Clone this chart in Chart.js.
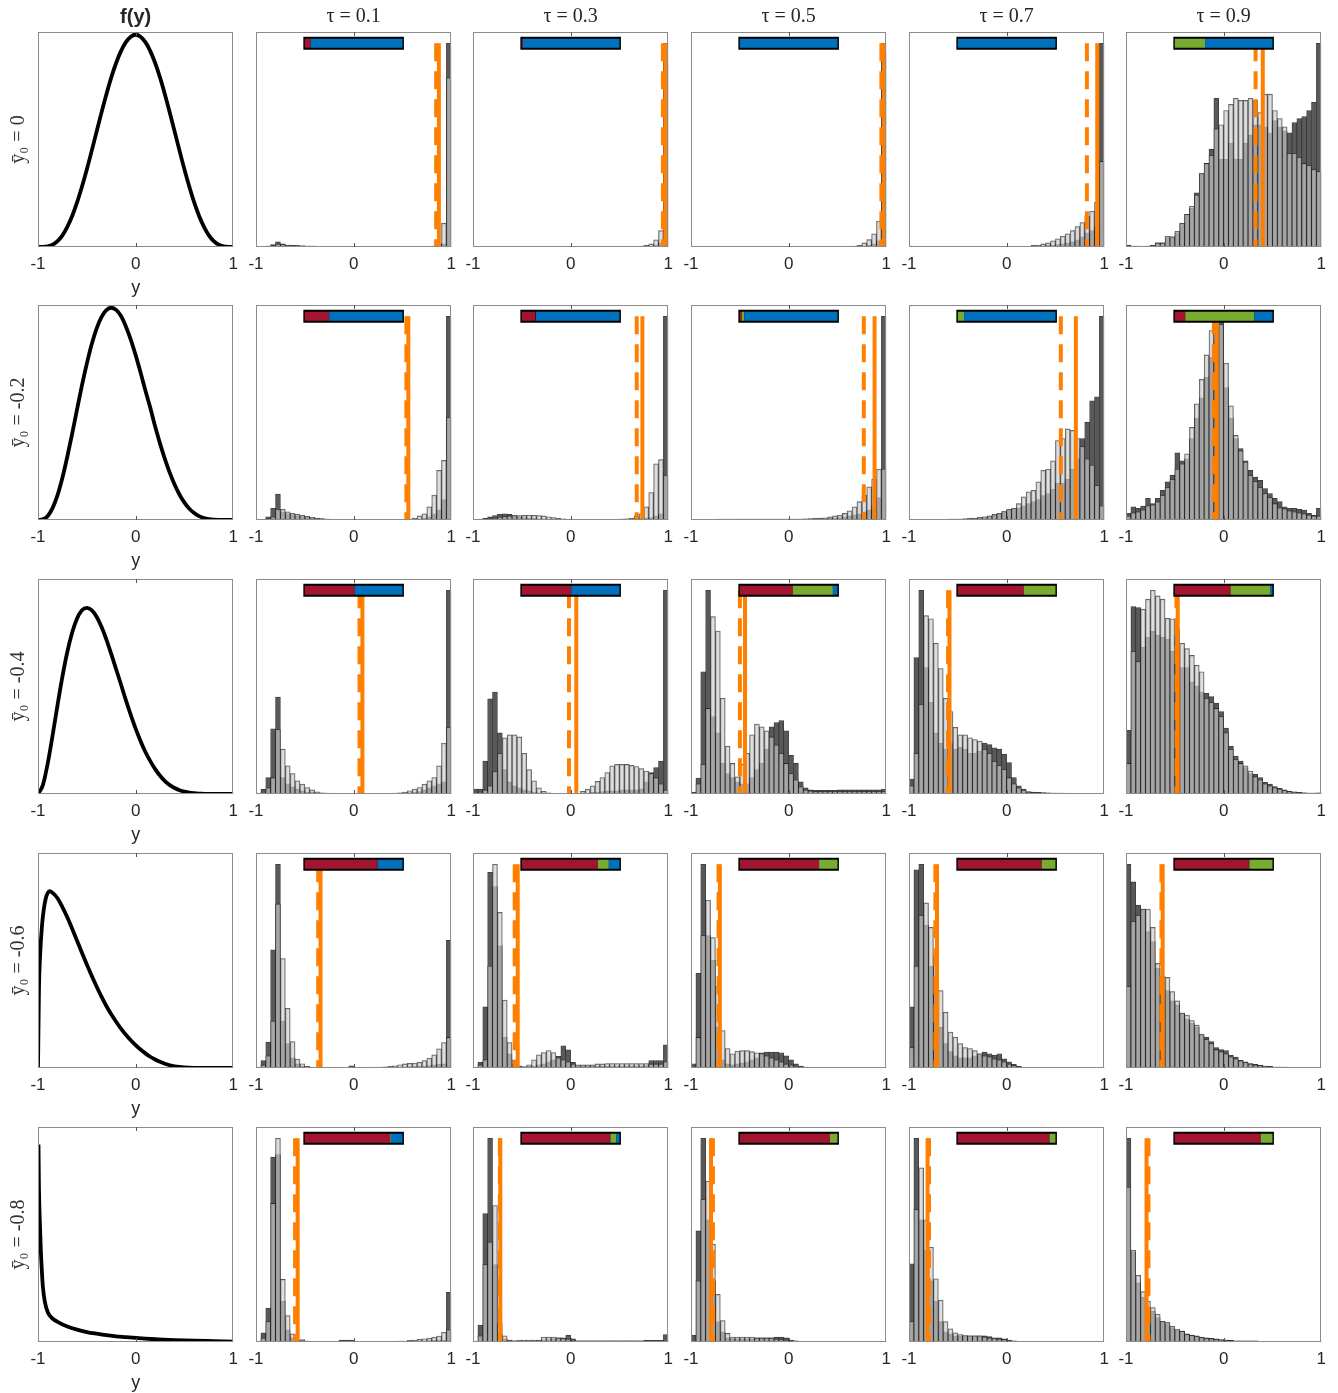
<!DOCTYPE html>
<html><head><meta charset="utf-8">
<script src="https://cdn.jsdelivr.net/npm/chart.js@4.4.1/dist/chart.umd.min.js"></script>
<style>
html,body{margin:0;padding:0;background:#fff;}
#wrap{position:relative;width:1338px;height:1393px;overflow:hidden;background:#fff;}
#wrap canvas{position:absolute;}
</style></head><body><div id="wrap"></div>
<script>
// ---------------- DATA ----------------
const xTicks = [-1, 0, 1];
const taus = ['0.1', '0.3', '0.5', '0.7', '0.9'];
const y0Labels = ['ȳ₀ = 0', 'ȳ₀ = -0.2', 'ȳ₀ = -0.4', 'ȳ₀ = -0.6', 'ȳ₀ = -0.8'];
const binCenters = [-0.975,-0.925,-0.875,-0.825,-0.775,-0.725,-0.675,-0.625,-0.575,-0.525,
 -0.475,-0.425,-0.375,-0.325,-0.275,-0.225,-0.175,-0.125,-0.075,-0.025,
 0.025,0.075,0.125,0.175,0.225,0.275,0.325,0.375,0.425,0.475,
 0.525,0.575,0.625,0.675,0.725,0.775,0.825,0.875,0.925,0.975];

// density f(y), first column
const densX = [-1,-0.95,-0.9,-0.85,-0.8,-0.75,-0.7,-0.65,-0.6,-0.55,-0.5,-0.45,-0.4,-0.35,-0.3,-0.25,-0.2,-0.15,-0.1,-0.05,0,
 0.05,0.1,0.15,0.2,0.25,0.3,0.35,0.4,0.45,0.5,0.55,0.6,0.65,0.7,0.75,0.8,0.85,0.9,0.95,1];
const densY_r1 = [0,0.0003,0.003,0.011,0.028,0.055,0.095,0.146,0.21,0.284,0.365,0.453,0.543,0.633,0.719,0.798,0.867,0.923,0.965,0.991,1.0,
 0.991,0.965,0.923,0.867,0.798,0.719,0.633,0.543,0.453,0.365,0.284,0.21,0.146,0.095,0.055,0.028,0.011,0.003,0.0003,0];
const densY_r2 = [0,0.003,0.019,0.057,0.117,0.199,0.298,0.407,0.521,0.634,0.737,0.828,0.902,0.956,0.989,1.0,0.99,0.961,0.912,0.85,0.777,
 0.696,0.61,0.529,0.44,0.36,0.287,0.222,0.166,0.119,0.082,0.053,0.033,0.018,0.009,0.004,0.0015,0.0005,0.0001,0,0];
const densY_r3 = [0,0.042,0.145,0.278,0.419,0.553,0.669,0.761,0.827,0.866,0.877,0.866,0.835,0.788,0.729,0.66,0.588,0.516,0.442,0.373,0.308,
 0.25,0.198,0.155,0.117,0.086,0.061,0.042,0.028,0.018,0.011,0.006,0.0035,0.002,0.001,0,0,0,0,0,0];
const densX_r4 = [-1,-0.99,-0.98,-0.96,-0.94,-0.92,-0.9,-0.88,-0.85,-0.8,-0.75,-0.7,-0.65,-0.6,-0.55,-0.5,-0.45,-0.4,-0.35,-0.3,
 -0.25,-0.2,-0.15,-0.1,-0.05,0,0.05,0.1,0.15,0.2,0.25,0.3,0.35,0.4,0.45,0.5,0.6,0.7,0.8,0.9,1];
const densY_r4 = [0,0.375,0.516,0.666,0.75,0.8,0.825,0.833,0.825,0.8,0.758,0.71,0.656,0.6,0.543,0.488,0.435,0.384,0.336,0.292,
 0.253,0.218,0.186,0.157,0.131,0.108,0.087,0.069,0.053,0.04,0.029,0.02,0.013,0.008,0.005,0.003,0.001,0,0,0,0];
const densX_r5 = [-0.995,-0.99,-0.98,-0.97,-0.96,-0.95,-0.93,-0.9,-0.85,-0.8,-0.7,-0.6,-0.5,-0.4,-0.3,-0.2,-0.1,0,0.2,0.4,0.6,0.8,1];
const densY_r5 = [0.93,0.72,0.55,0.42,0.33,0.26,0.19,0.14,0.11,0.095,0.073,0.058,0.047,0.039,0.032,0.027,0.023,0.019,0.013,0.009,0.006,0.004,0.002];

// histograms: dark series and light series (relative heights, 40 bins)
const dark_r1_t1 = [0.002,0.003,0.005,0.012,0.025,0.016,0.010,0.008,0.007,0.006,
 0.005,0.004,0.003,0.003,0.003,0.003,0.003,0.003,0.003,0.003,
 0.003,0.003,0.003,0.003,0.003,0.003,0.003,0.003,0.003,0.003,
 0.003,0.003,0.003,0.003,0.003,0.003,0.004,0.006,0.015,1.000];
const light_r1_t1 = [0.001,0.002,0.004,0.008,0.015,0.012,0.010,0.008,0.007,0.006,
 0.005,0.004,0.003,0.003,0.003,0.003,0.003,0.003,0.003,0.003,
 0.003,0.003,0.003,0.003,0.003,0.003,0.003,0.003,0.003,0.003,
 0.003,0.003,0.003,0.003,0.003,0.003,0.005,0.015,0.117,0.830];
const dark_r1_t3 = [0.002,0.002,0.002,0.003,0.003,0.003,0.003,0.003,0.003,0.003,
 0.002,0.002,0.002,0.002,0.002,0.002,0.002,0.002,0.002,0.002,
 0.002,0.002,0.002,0.002,0.002,0.002,0.002,0.002,0.002,0.002,
 0.002,0.002,0.002,0.002,0.003,0.004,0.006,0.010,0.020,1.000];
const light_r1_t3 = [0.002,0.002,0.002,0.002,0.002,0.002,0.002,0.002,0.002,0.002,
 0.002,0.002,0.002,0.002,0.002,0.002,0.002,0.002,0.002,0.002,
 0.002,0.002,0.002,0.002,0.002,0.002,0.002,0.002,0.002,0.002,
 0.002,0.002,0.002,0.002,0.004,0.008,0.015,0.035,0.080,0.900];
const dark_r1_t5 = [0.002,0.002,0.002,0.002,0.002,0.002,0.002,0.002,0.002,0.002,
 0.002,0.002,0.002,0.002,0.002,0.002,0.002,0.002,0.002,0.002,
 0.002,0.002,0.002,0.002,0.002,0.002,0.002,0.002,0.002,0.002,
 0.002,0.002,0.002,0.003,0.004,0.006,0.010,0.015,0.030,1.000];
const light_r1_t5 = [0.002,0.002,0.002,0.002,0.002,0.002,0.002,0.002,0.002,0.002,
 0.002,0.002,0.002,0.002,0.002,0.002,0.002,0.002,0.002,0.002,
 0.002,0.002,0.002,0.002,0.002,0.002,0.002,0.002,0.002,0.002,
 0.002,0.002,0.002,0.004,0.008,0.020,0.036,0.065,0.127,0.950];
const dark_r1_t7 = [0.002,0.002,0.002,0.002,0.002,0.002,0.002,0.002,0.002,0.002,
 0.002,0.002,0.002,0.002,0.003,0.003,0.003,0.003,0.003,0.003,
 0.003,0.003,0.003,0.003,0.003,0.004,0.005,0.006,0.008,0.010,
 0.012,0.015,0.020,0.025,0.035,0.050,0.070,0.080,0.100,1.000];
const light_r1_t7 = [0.002,0.002,0.002,0.002,0.002,0.002,0.002,0.002,0.002,0.002,
 0.002,0.002,0.002,0.002,0.003,0.003,0.003,0.003,0.003,0.003,
 0.003,0.003,0.003,0.003,0.003,0.008,0.010,0.015,0.020,0.030,
 0.040,0.054,0.065,0.080,0.100,0.120,0.150,0.176,0.220,0.420];
const dark_r1_t9 = [0.010,0.005,0.004,0.003,0.005,0.008,0.020,0.020,0.045,0.050,
 0.070,0.115,0.160,0.190,0.266,0.360,0.410,0.480,0.730,0.430,
 0.430,0.510,0.430,0.430,0.510,0.550,0.600,0.600,0.590,0.560,
 0.620,0.590,0.570,0.560,0.610,0.630,0.640,0.670,0.710,1.000];
const light_r1_t9 = [0.005,0.004,0.003,0.003,0.005,0.008,0.020,0.020,0.052,0.050,
 0.077,0.117,0.160,0.200,0.255,0.360,0.410,0.450,0.580,0.600,
 0.670,0.700,0.730,0.720,0.720,0.730,0.720,0.660,0.750,0.750,
 0.670,0.630,0.590,0.460,0.460,0.440,0.410,0.400,0.380,0.370];

const dark_r2_t1 = [0.001,0.003,0.016,0.057,0.127,0.040,0.030,0.025,0.020,0.017,
 0.013,0.010,0.008,0.006,0.005,0.003,0.003,0.003,0.003,0.003,
 0.003,0.003,0.003,0.003,0.002,0.002,0.002,0.002,0.002,0.002,
 0.002,0.003,0.004,0.006,0.008,0.015,0.030,0.050,0.100,1.000];
const light_r2_t1 = [0.001,0.002,0.008,0.016,0.052,0.052,0.040,0.033,0.028,0.023,
 0.018,0.013,0.010,0.007,0.005,0.003,0.003,0.003,0.003,0.003,
 0.003,0.003,0.003,0.003,0.002,0.002,0.002,0.002,0.002,0.002,
 0.003,0.005,0.010,0.020,0.030,0.065,0.122,0.244,0.293,0.504];
const dark_r2_t3 = [0.002,0.004,0.008,0.015,0.022,0.028,0.030,0.028,0.022,0.017,
 0.012,0.010,0.008,0.006,0.005,0.004,0.003,0.003,0.002,0.003,
 0.003,0.003,0.003,0.003,0.003,0.003,0.003,0.003,0.003,0.003,
 0.004,0.005,0.006,0.007,0.008,0.010,0.012,0.020,0.030,1.000];
const light_r2_t3 = [0.001,0.002,0.003,0.005,0.010,0.014,0.017,0.020,0.022,0.022,
 0.023,0.024,0.023,0.022,0.020,0.016,0.012,0.008,0.006,0.004,
 0.003,0.003,0.003,0.003,0.003,0.003,0.003,0.003,0.003,0.003,
 0.004,0.006,0.010,0.020,0.030,0.065,0.135,0.276,0.296,0.220];
const dark_r2_t5 = [0.003,0.003,0.003,0.003,0.003,0.004,0.005,0.005,0.005,0.004,
 0.004,0.004,0.004,0.004,0.004,0.004,0.004,0.004,0.004,0.004,
 0.004,0.004,0.004,0.004,0.004,0.005,0.005,0.006,0.008,0.010,
 0.012,0.015,0.020,0.025,0.030,0.040,0.050,0.070,0.110,1.000];
const light_r2_t5 = [0.002,0.002,0.002,0.002,0.002,0.002,0.003,0.003,0.003,0.004,
 0.004,0.004,0.004,0.004,0.004,0.004,0.004,0.004,0.004,0.004,
 0.004,0.004,0.005,0.006,0.007,0.008,0.009,0.011,0.015,0.020,
 0.024,0.033,0.045,0.065,0.090,0.122,0.163,0.200,0.250,0.250];
const dark_r2_t7 = [0.002,0.002,0.003,0.003,0.003,0.003,0.003,0.003,0.004,0.004,
 0.005,0.006,0.006,0.007,0.008,0.012,0.018,0.025,0.030,0.040,
 0.050,0.055,0.060,0.070,0.080,0.090,0.100,0.120,0.130,0.150,
 0.180,0.180,0.200,0.250,0.300,0.400,0.480,0.585,0.605,1.000];
const light_r2_t7 = [0.002,0.002,0.002,0.002,0.003,0.003,0.003,0.003,0.004,0.004,
 0.005,0.006,0.008,0.010,0.013,0.016,0.021,0.028,0.033,0.044,
 0.052,0.057,0.080,0.114,0.138,0.146,0.187,0.244,0.250,0.290,
 0.390,0.400,0.447,0.440,0.400,0.360,0.300,0.270,0.170,0.070];
const dark_r2_t9 = [0.033,0.065,0.057,0.068,0.106,0.081,0.106,0.146,0.187,0.220,
 0.330,0.290,0.300,0.400,0.500,0.600,0.700,0.800,0.880,1.000,
 0.650,0.500,0.400,0.350,0.290,0.244,0.210,0.195,0.154,0.130,
 0.106,0.090,0.065,0.057,0.057,0.052,0.049,0.033,0.024,0.057];
const light_r2_t9 = [0.020,0.035,0.040,0.050,0.070,0.075,0.090,0.120,0.160,0.200,
 0.250,0.276,0.325,0.455,0.570,0.690,0.810,0.930,0.950,0.960,
 0.770,0.560,0.415,0.340,0.285,0.220,0.190,0.160,0.130,0.110,
 0.080,0.060,0.055,0.045,0.040,0.035,0.030,0.025,0.020,0.020];

const dark_r3_t1 = [0.002,0.023,0.081,0.320,0.475,0.080,0.050,0.035,0.025,0.015,
 0.010,0.008,0.006,0.004,0.003,0.002,0.002,0.002,0.002,0.002,
 0.002,0.002,0.002,0.002,0.002,0.002,0.002,0.002,0.003,0.004,
 0.005,0.007,0.010,0.012,0.020,0.030,0.040,0.050,0.060,1.000];
const light_r3_t1 = [0.001,0.010,0.030,0.080,0.316,0.220,0.138,0.100,0.065,0.049,
 0.032,0.020,0.011,0.006,0.004,0.003,0.002,0.002,0.002,0.002,
 0.002,0.002,0.002,0.002,0.002,0.002,0.002,0.003,0.004,0.006,
 0.010,0.016,0.024,0.032,0.049,0.065,0.081,0.138,0.250,0.327];
const dark_r3_t3 = [0.024,0.024,0.162,0.467,0.500,0.300,0.120,0.060,0.040,0.030,
 0.020,0.015,0.010,0.006,0.004,0.003,0.002,0.002,0.002,0.002,
 0.002,0.002,0.003,0.005,0.008,0.010,0.012,0.015,0.015,0.015,
 0.020,0.020,0.020,0.020,0.025,0.060,0.105,0.130,0.162,1.000];
const light_r3_t3 = [0.010,0.010,0.020,0.040,0.110,0.200,0.276,0.290,0.290,0.280,
 0.200,0.120,0.065,0.030,0.013,0.006,0.003,0.003,0.003,0.002,
 0.002,0.002,0.013,0.024,0.040,0.062,0.081,0.105,0.138,0.146,
 0.146,0.145,0.141,0.135,0.125,0.113,0.100,0.080,0.050,0.020];
const dark_r3_t5 = [0.010,0.078,0.600,1.000,0.380,0.300,0.150,0.100,0.080,0.060,
 0.050,0.050,0.080,0.120,0.150,0.220,0.330,0.350,0.360,0.310,
 0.190,0.150,0.060,0.030,0.020,0.018,0.018,0.018,0.018,0.018,
 0.020,0.020,0.020,0.020,0.020,0.020,0.020,0.020,0.020,0.024];
const light_r3_t5 = [0.005,0.050,0.146,0.420,0.870,0.800,0.470,0.235,0.150,0.084,
 0.146,0.200,0.290,0.343,0.330,0.310,0.280,0.240,0.200,0.150,
 0.100,0.070,0.035,0.020,0.015,0.012,0.012,0.012,0.012,0.012,
 0.012,0.012,0.012,0.012,0.012,0.012,0.012,0.012,0.012,0.012];
const dark_r3_t7 = [0.073,0.670,1.000,0.620,0.450,0.300,0.250,0.220,0.250,0.220,
 0.230,0.220,0.200,0.200,0.210,0.250,0.243,0.227,0.220,0.195,
 0.154,0.081,0.040,0.024,0.012,0.010,0.008,0.007,0.006,0.005,
 0.004,0.004,0.003,0.003,0.003,0.003,0.002,0.002,0.002,0.002];
const light_r3_t7 = [0.040,0.200,0.440,0.875,0.860,0.740,0.616,0.470,0.405,0.327,
 0.290,0.290,0.276,0.267,0.260,0.220,0.200,0.160,0.140,0.120,
 0.080,0.050,0.030,0.020,0.010,0.008,0.006,0.005,0.004,0.004,
 0.003,0.003,0.003,0.003,0.002,0.002,0.002,0.002,0.002,0.002];
const dark_r3_t9 = [0.313,0.920,0.915,0.720,0.770,0.800,0.780,0.770,0.760,0.700,
 0.700,0.620,0.620,0.550,0.530,0.500,0.494,0.478,0.446,0.405,
 0.324,0.235,0.186,0.162,0.130,0.100,0.097,0.081,0.057,0.049,
 0.036,0.028,0.020,0.013,0.011,0.008,0.006,0.005,0.004,0.006];
const light_r3_t9 = [0.150,0.700,0.650,0.907,0.956,1.000,0.972,0.956,0.862,0.860,
 0.810,0.740,0.713,0.680,0.632,0.600,0.470,0.450,0.420,0.380,
 0.300,0.220,0.170,0.150,0.138,0.113,0.085,0.070,0.050,0.040,
 0.030,0.025,0.018,0.012,0.010,0.008,0.006,0.005,0.004,0.004];

const dark_r4_t1 = [0.005,0.037,0.127,0.580,1.000,0.230,0.120,0.050,0.020,0.010,
 0.005,0.003,0.002,0.002,0.002,0.002,0.002,0.002,0.002,0.011,
 0.003,0.003,0.003,0.003,0.003,0.003,0.003,0.003,0.005,0.005,
 0.006,0.007,0.008,0.009,0.010,0.012,0.015,0.018,0.020,0.626];
const light_r4_t1 = [0.003,0.015,0.060,0.230,0.805,0.537,0.293,0.130,0.044,0.021,
 0.008,0.004,0.002,0.002,0.002,0.002,0.002,0.002,0.002,0.003,
 0.003,0.003,0.003,0.003,0.004,0.005,0.006,0.008,0.011,0.016,
 0.020,0.023,0.024,0.028,0.036,0.049,0.065,0.094,0.125,0.150];
const dark_r4_t3 = [0.005,0.028,0.300,0.960,0.890,0.600,0.150,0.070,0.020,0.010,
 0.006,0.008,0.010,0.015,0.020,0.030,0.040,0.057,0.109,0.089,
 0.028,0.008,0.008,0.008,0.008,0.008,0.008,0.008,0.010,0.010,
 0.010,0.010,0.010,0.010,0.010,0.012,0.037,0.037,0.037,0.114];
const light_r4_t3 = [0.003,0.015,0.040,0.500,1.000,0.764,0.333,0.125,0.040,0.010,
 0.006,0.016,0.040,0.065,0.076,0.086,0.076,0.050,0.040,0.030,
 0.020,0.015,0.015,0.015,0.015,0.020,0.020,0.022,0.022,0.022,
 0.022,0.022,0.022,0.022,0.022,0.022,0.020,0.020,0.020,0.030];
const dark_r4_t5 = [0.021,0.465,1.000,0.650,0.530,0.200,0.040,0.020,0.015,0.020,
 0.025,0.030,0.040,0.050,0.075,0.078,0.078,0.078,0.075,0.060,
 0.040,0.020,0.010,0.004,0.003,0.003,0.003,0.002,0.002,0.002,
 0.002,0.002,0.002,0.002,0.002,0.002,0.002,0.002,0.002,0.002];
const light_r4_t5 = [0.010,0.150,0.650,0.824,0.640,0.400,0.184,0.095,0.070,0.083,
 0.085,0.085,0.080,0.075,0.070,0.060,0.050,0.040,0.030,0.020,
 0.015,0.010,0.008,0.004,0.003,0.003,0.003,0.002,0.002,0.002,
 0.002,0.002,0.002,0.002,0.002,0.002,0.002,0.002,0.002,0.002];
const dark_r4_t7 = [0.300,0.973,1.000,0.700,0.500,0.400,0.200,0.120,0.080,0.060,
 0.050,0.050,0.050,0.060,0.070,0.078,0.070,0.062,0.070,0.045,
 0.030,0.018,0.008,0.003,0.003,0.003,0.003,0.003,0.003,0.003,
 0.003,0.003,0.003,0.003,0.003,0.003,0.003,0.003,0.003,0.003];
const light_r4_t7 = [0.100,0.500,0.750,0.810,0.690,0.550,0.380,0.274,0.176,0.152,
 0.120,0.100,0.095,0.085,0.070,0.060,0.055,0.045,0.040,0.030,
 0.020,0.012,0.008,0.003,0.003,0.003,0.003,0.003,0.003,0.003,
 0.003,0.003,0.003,0.003,0.003,0.003,0.003,0.003,0.003,0.003];
const dark_r4_t9 = [1.000,0.913,0.800,0.780,0.670,0.620,0.490,0.420,0.380,0.330,
 0.310,0.270,0.240,0.220,0.200,0.160,0.150,0.130,0.100,0.090,
 0.085,0.062,0.054,0.038,0.030,0.022,0.018,0.014,0.010,0.008,
 0.005,0.004,0.004,0.003,0.003,0.003,0.002,0.002,0.002,0.002];
const light_r4_t9 = [0.400,0.720,0.750,0.780,0.780,0.690,0.514,0.450,0.445,0.375,
 0.330,0.270,0.260,0.233,0.210,0.166,0.140,0.120,0.090,0.080,
 0.070,0.055,0.045,0.035,0.028,0.020,0.015,0.012,0.010,0.008,
 0.005,0.004,0.004,0.003,0.003,0.003,0.002,0.002,0.002,0.002];

const dark_r5_t1 = [0.005,0.045,0.167,0.908,0.920,0.200,0.060,0.020,0.010,0.011,
 0.005,0.003,0.003,0.003,0.003,0.003,0.003,0.010,0.010,0.010,
 0.003,0.003,0.003,0.003,0.003,0.003,0.003,0.003,0.003,0.003,
 0.003,0.004,0.005,0.005,0.006,0.007,0.008,0.009,0.010,0.244];
const light_r5_t1 = [0.003,0.020,0.100,0.680,1.000,0.307,0.130,0.040,0.010,0.011,
 0.005,0.003,0.003,0.003,0.003,0.003,0.003,0.003,0.003,0.003,
 0.003,0.003,0.003,0.003,0.003,0.003,0.003,0.003,0.003,0.004,
 0.005,0.008,0.010,0.013,0.016,0.019,0.024,0.029,0.048,0.060];
const dark_r5_t3 = [0.005,0.083,0.630,1.000,0.380,0.040,0.015,0.010,0.006,0.006,
 0.006,0.006,0.006,0.008,0.010,0.012,0.015,0.021,0.020,0.034,
 0.015,0.006,0.006,0.006,0.006,0.006,0.006,0.006,0.006,0.006,
 0.006,0.006,0.006,0.006,0.006,0.008,0.008,0.008,0.008,0.037];
const light_r5_t3 = [0.003,0.030,0.380,0.490,0.670,0.094,0.030,0.010,0.006,0.010,
 0.010,0.010,0.010,0.010,0.024,0.024,0.024,0.020,0.018,0.015,
 0.010,0.006,0.006,0.006,0.006,0.006,0.006,0.006,0.006,0.006,
 0.006,0.006,0.006,0.006,0.006,0.005,0.005,0.005,0.005,0.010];
const dark_r5_t5 = [0.034,0.545,1.000,0.600,0.300,0.100,0.050,0.020,0.015,0.015,
 0.015,0.015,0.015,0.020,0.020,0.020,0.020,0.024,0.024,0.020,
 0.010,0.006,0.002,0.002,0.002,0.002,0.002,0.002,0.002,0.002,
 0.002,0.002,0.002,0.002,0.002,0.002,0.002,0.002,0.002,0.002];
const light_r5_t5 = [0.010,0.300,0.700,0.790,0.480,0.234,0.105,0.042,0.024,0.024,
 0.024,0.024,0.024,0.020,0.020,0.020,0.020,0.015,0.012,0.010,
 0.008,0.005,0.002,0.002,0.002,0.002,0.002,0.002,0.002,0.002,
 0.002,0.002,0.002,0.002,0.002,0.002,0.002,0.002,0.002,0.002];
const dark_r5_t7 = [0.384,1.000,0.600,0.450,0.300,0.200,0.100,0.050,0.040,0.030,
 0.030,0.030,0.030,0.030,0.030,0.030,0.026,0.021,0.020,0.015,
 0.010,0.006,0.002,0.002,0.002,0.002,0.002,0.002,0.002,0.002,
 0.002,0.002,0.002,0.002,0.002,0.002,0.002,0.002,0.002,0.002];
const light_r5_t7 = [0.100,0.650,0.855,0.600,0.465,0.310,0.206,0.100,0.065,0.045,
 0.037,0.032,0.030,0.030,0.030,0.025,0.020,0.018,0.015,0.012,
 0.008,0.005,0.002,0.002,0.002,0.002,0.002,0.002,0.002,0.002,
 0.002,0.002,0.002,0.002,0.002,0.002,0.002,0.002,0.002,0.002];
const dark_r5_t9 = [1.000,0.440,0.290,0.220,0.170,0.150,0.120,0.100,0.090,0.070,
 0.060,0.053,0.040,0.034,0.030,0.024,0.020,0.018,0.015,0.012,
 0.010,0.008,0.006,0.006,0.006,0.006,0.006,0.003,0.003,0.003,
 0.003,0.003,0.003,0.003,0.003,0.003,0.003,0.003,0.003,0.003];
const light_r5_t9 = [0.760,0.450,0.327,0.247,0.200,0.169,0.137,0.102,0.098,0.077,
 0.061,0.053,0.038,0.032,0.028,0.022,0.018,0.016,0.013,0.011,
 0.009,0.007,0.005,0.005,0.005,0.005,0.005,0.003,0.003,0.003,
 0.003,0.003,0.003,0.003,0.003,0.003,0.003,0.003,0.003,0.003];

// orange reference lines (per row, one per tau)
const solidRow1 = [0.873, 0.970, 0.975, 0.928, 0.401];
const solidRow2 = [0.560, 0.735, 0.880, 0.709, -0.070];
const solidRow3 = [0.090, 0.058, -0.447, -0.585, -0.470];
const solidRow4 = [-0.339, -0.542, -0.704, -0.713, -0.624];
const solidRow5 = [-0.573, -0.720, -0.795, -0.810, -0.790];
const dashedRow1 = [0.845, 0.945, 0.950, 0.822, 0.327];
const dashedRow2 = [0.540, 0.677, 0.770, 0.555, -0.100];
const dashedRow3 = [0.060, -0.017, -0.499, -0.600, -0.483];
const dashedRow4 = [-0.363, -0.573, -0.718, -0.730, -0.637];
const dashedRow5 = [-0.600, -0.725, -0.775, -0.795, -0.770];

// proportion bars (red / green / blue shares)
const redRow1 = [0.06, 0.01, 0, 0, 0];
const greenRow1 = [0, 0, 0, 0, 0.31];
const blueRow1 = [0.94, 0.99, 1, 1, 0.69];
const redRow2 = [0.25, 0.14, 0.02, 0, 0.107];
const greenRow2 = [0, 0.005, 0.025, 0.064, 0.708];
const blueRow2 = [0.75, 0.855, 0.955, 0.936, 0.185];
const redRow3 = [0.51, 0.507, 0.543, 0.675, 0.571];
const greenRow3 = [0, 0, 0.41, 0.325, 0.408];
const blueRow3 = [0.49, 0.493, 0.047, 0, 0.021];
const redRow4 = [0.746, 0.779, 0.812, 0.859, 0.764];
const greenRow4 = [0, 0.112, 0.188, 0.141, 0.236];
const blueRow4 = [0.254, 0.109, 0, 0, 0];
const redRow5 = [0.871, 0.908, 0.923, 0.94, 0.88];
const greenRow5 = [0.01, 0.061, 0.077, 0.06, 0.12];
const blueRow5 = [0.119, 0.031, 0, 0, 0];

// ---------------- ASSEMBLY ----------------
const densXs = [densX, densX, densX, densX_r4, densX_r5];
const densYs = [densY_r1, densY_r2, densY_r3, densY_r4, densY_r5];
const darkSets = [
  [dark_r1_t1, dark_r1_t3, dark_r1_t5, dark_r1_t7, dark_r1_t9],
  [dark_r2_t1, dark_r2_t3, dark_r2_t5, dark_r2_t7, dark_r2_t9],
  [dark_r3_t1, dark_r3_t3, dark_r3_t5, dark_r3_t7, dark_r3_t9],
  [dark_r4_t1, dark_r4_t3, dark_r4_t5, dark_r4_t7, dark_r4_t9],
  [dark_r5_t1, dark_r5_t3, dark_r5_t5, dark_r5_t7, dark_r5_t9]];
const lightSets = [
  [light_r1_t1, light_r1_t3, light_r1_t5, light_r1_t7, light_r1_t9],
  [light_r2_t1, light_r2_t3, light_r2_t5, light_r2_t7, light_r2_t9],
  [light_r3_t1, light_r3_t3, light_r3_t5, light_r3_t7, light_r3_t9],
  [light_r4_t1, light_r4_t3, light_r4_t5, light_r4_t7, light_r4_t9],
  [light_r5_t1, light_r5_t3, light_r5_t5, light_r5_t7, light_r5_t9]];
const solids = [solidRow1, solidRow2, solidRow3, solidRow4, solidRow5];
const dasheds = [dashedRow1, dashedRow2, dashedRow3, dashedRow4, dashedRow5];
const reds = [redRow1, redRow2, redRow3, redRow4, redRow5];
const greens = [greenRow1, greenRow2, greenRow3, greenRow4, greenRow5];
const blues = [blueRow1, blueRow2, blueRow3, blueRow4, blueRow5];

const wrap = document.getElementById('wrap');
const colLeft = [38, 256, 473, 691, 909, 1126];
const rowTop = [32, 305, 579, 853, 1127];
const PW = 197, PH = 215, TITLE_H = 27, RPAD = 10;
const SANS = "'Liberation Sans', Arial, sans-serif";
const SERIF = "'Liberation Serif', 'DejaVu Serif', 'Times New Roman', serif";
const TXT = '#262626';

const boxPlugin = {
  id: 'panelBox',
  afterDatasetsDraw(chart) {
    const a = chart.chartArea, ctx = chart.ctx;
    const l = Math.round(a.left), t = Math.round(a.top), r = Math.round(a.right), b = Math.round(a.bottom);
    ctx.save();
    ctx.strokeStyle = '#8c8c8c'; ctx.lineWidth = 1;
    ctx.strokeRect(l + 0.5, t + 0.5, r - l - 1, b - t - 1);
    const x0 = Math.round(chart.scales.x.getPixelForValue(0)) + 0.5;
    ctx.strokeStyle = '#555';
    ctx.beginPath(); ctx.moveTo(x0, t); ctx.lineTo(x0, t + 4);
    ctx.moveTo(x0, b); ctx.lineTo(x0, b - 4); ctx.stroke();
    ctx.restore();
  }
};

function makeCanvas(row, col) {
  const yW = col === 0 ? 38 : 16;
  const xH = col === 0 ? 54 : 30;
  const tH = row === 0 ? TITLE_H : 0;
  const w = yW + PW + RPAD, h = tH + PH + xH;
  const c = document.createElement('canvas');
  c.width = w; c.height = h;
  c.style.left = (colLeft[col] - yW) + 'px';
  c.style.top = (rowTop[row] - tH) + 'px';
  c.style.width = w + 'px'; c.style.height = h + 'px';
  wrap.appendChild(c);
  return { c, yW, xH };
}

function makeOptions(row, col, yMax, yW, xH) {
  return {
    responsive: false, animation: false, devicePixelRatio: 1,
    layout: { padding: { left: 0, right: RPAD, top: 0, bottom: 0 } },
    plugins: {
      legend: { display: false }, tooltip: { enabled: false },
      title: {
        display: row === 0, fullSize: false,
        text: col === 0 ? 'f(y)' : 'τ = ' + taus[col - 1],
        font: col === 0 ? { family: SANS, size: 20, weight: 'bold' } : { family: SERIF, size: 20, weight: 'normal' },
        color: TXT, padding: { top: 0, bottom: 3 }
      }
    },
    scales: {
      x: {
        type: 'linear', min: -1, max: 1, offset: false,
        grid: { display: false, drawTicks: false }, border: { display: false },
        afterBuildTicks: s => { s.ticks = xTicks.map(v => ({ value: v })); },
        ticks: { font: { family: SANS, size: 17 }, color: TXT, padding: 7, maxRotation: 0, autoSkip: false },
        title: col === 0 ? { display: true, text: 'y', font: { family: SANS, size: 18 }, color: TXT, padding: { top: 0, bottom: 2 } } : { display: false },
        afterFit: s => { s.height = xH; }
      },
      y: {
        type: 'linear', min: 0, max: yMax,
        grid: { display: false, drawTicks: false }, border: { display: false },
        ticks: { display: false },
        title: col === 0 ? { display: true, text: y0Labels[row], font: { family: SERIF, size: 20 }, color: '#333', padding: { top: 7, bottom: 0 } } : { display: false },
        afterFit: s => { s.width = yW; }
      }
    }
  };
}

for (let row = 0; row < 5; row++) {
  {
    const { c, yW, xH } = makeCanvas(row, 0);
    const xs = densXs[row], ys = densYs[row];
    new Chart(c, {
      type: 'scatter',
      data: { datasets: [{
        data: xs.map((x, i) => ({ x, y: ys[i] })),
        showLine: true, borderColor: '#000', borderWidth: 3.8, pointRadius: 0,
        cubicInterpolationMode: 'monotone', fill: false
      }] },
      options: makeOptions(row, 0, 1.013, yW, xH),
      plugins: [boxPlugin]
    });
  }
  for (let k = 0; k < 5; k++) {
    const col = k + 1;
    const { c, yW, xH } = makeCanvas(row, col);
    const dk = darkSets[row][k], lt = lightSets[row][k];
    const datasets = [
      { type: 'bar', data: binCenters.map((x, i) => ({ x, y: dk[i] })), grouped: false,
        backgroundColor: '#595959', borderColor: 'rgba(35,35,35,0.9)', borderWidth: 0.8,
        barPercentage: 1, categoryPercentage: 1, order: 10 },
      { type: 'bar', data: binCenters.map((x, i) => ({ x, y: lt[i] })), grouped: false,
        backgroundColor: 'rgba(205,205,205,0.66)', borderColor: 'rgba(30,30,30,0.75)', borderWidth: 0.8,
        barPercentage: 1, categoryPercentage: 1, order: 9 },
      { type: 'line', data: [{ x: dasheds[row][k], y: 1 }, { x: dasheds[row][k], y: 0 }],
        borderColor: '#ff8000', borderWidth: 4, borderDash: [18, 10], pointRadius: 0, fill: false, order: 8 },
      { type: 'line', data: [{ x: solids[row][k], y: 1 }, { x: solids[row][k], y: 0 }],
        borderColor: '#ff8000', borderWidth: 4, pointRadius: 0, fill: false, order: 7 },
      { type: 'line', data: [{ x: -0.515, y: 1 }, { x: 0.515, y: 1 }],
        borderColor: '#000', borderWidth: 13, pointRadius: 0, fill: false, order: 6 }
    ];
    const shares = [[reds[row][k], '#A2142F'], [greens[row][k], '#77AC30'], [blues[row][k], '#0072BD']];
    let start = -0.5;
    shares.forEach(([v, color], j) => {
      if (v > 0) {
        datasets.push({ type: 'line', data: [{ x: start, y: 1 }, { x: start + v, y: 1 }],
          borderColor: color, borderWidth: 9, pointRadius: 0, fill: false, order: 5 - j });
      }
      start += v;
    });
    new Chart(c, {
      type: 'bar',
      data: { datasets },
      options: makeOptions(row, col, 1.055, yW, xH),
      plugins: [boxPlugin]
    });
  }
}
</script>
</body></html>
